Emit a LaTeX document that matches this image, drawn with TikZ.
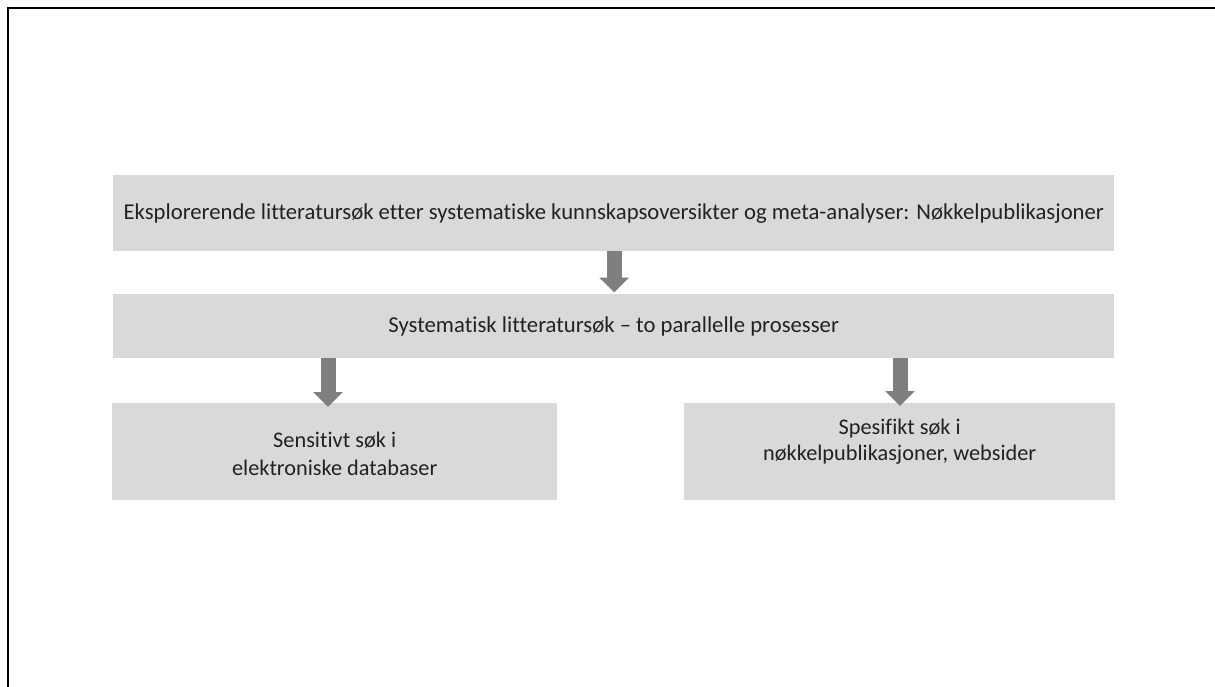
\documentclass[tikz,border=0pt]{standalone}
\usepackage{fontspec}
\setmainfont{Carlito}[Ligatures=NoCommon]
\usetikzlibrary{arrows.meta}
\definecolor{boxfill}{HTML}{D9D9D9}
\definecolor{arrowgray}{HTML}{7F7F7F}
\definecolor{txt}{HTML}{222222}
\tikzset{
  graybox/.style={fill=boxfill, draw=none, inner sep=0pt, anchor=north west, text=txt, align=center},
  blockarrow/.style={draw=arrowgray, line width=15pt, -{Triangle[width=29pt,length=15pt]}, arrowgray}
}
\begin{document}
\begin{tikzpicture}[x=1pt,y=-1pt]
\useasboundingbox (0,0) rectangle (1215,687);
\fill[white] (0,0) rectangle (1215,687);
\draw[line width=1.6pt] (1215,8) -- (8,8);
\draw[line width=2.2pt] (8,7.2) -- (8,687);

\node[graybox, minimum width=1001pt, minimum height=76pt, font=\fontsize{22.7}{27}\selectfont] (b1) at (113,175)
  {Eksplorerende litteratursøk etter systematiske kunnskapsoversikter og meta-analyser: Nøkkelpublikasjoner};
\node[graybox, minimum width=1001pt, minimum height=64pt, font=\fontsize{22.7}{27}\selectfont] (b2) at (113,294)
  {Systematisk litteratursøk -- to parallelle prosesser};
\node[graybox, minimum width=445pt, minimum height=97pt] (b3) at (112,403) {};
\node[txt, align=center, font=\fontsize{22.3}{28}\selectfont] (t3) at ([yshift=-2pt]b3.center)
  {Sensitivt søk i\\elektroniske databaser};
\node[graybox, minimum width=431pt, minimum height=97pt] (b4) at (684,403) {};
\node[txt, align=center, font=\fontsize{22.3}{26}\selectfont] (t4) at ([yshift=10pt]b4.center)
  {Spesifikt søk i\\nøkkelpublikasjoner, websider};

\draw[blockarrow] ([xshift=0.5pt]b1.south) -- ([xshift=0.5pt,yshift=1.5pt]b2.north);
\draw[blockarrow] (b2.south -| 328,0) -- ([yshift=-4pt]b3.north -| 328,0);
\draw[blockarrow] (b2.south -| 900,0) -- ([yshift=-3pt]b4.north -| 900,0);
\end{tikzpicture}
\end{document}
